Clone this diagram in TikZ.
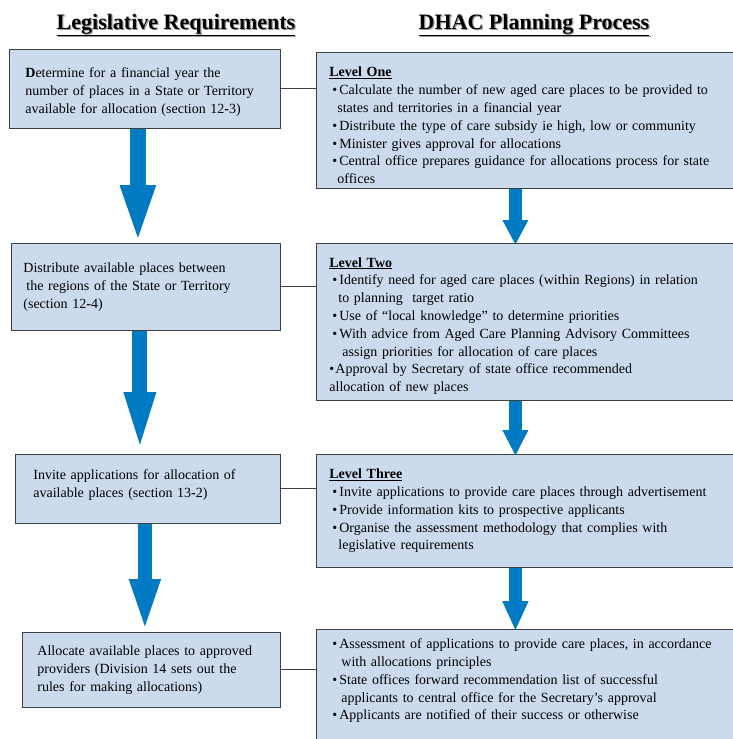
\documentclass[tikz,border=0pt]{standalone}
\usepackage{fontspec}
\setmainfont{Liberation Serif}
\usetikzlibrary{arrows.meta}
\definecolor{boxfill}{RGB}{204,218,238}
\definecolor{boxline}{RGB}{64,64,64}
\definecolor{flowblue}{RGB}{0,122,194}
\newcommand{\shadowed}[1]{\rlap{\hspace{1.2pt}\raisebox{-1.2pt}{\textcolor{black!40}{#1}}}#1}
\newcommand{\blt}{\makebox[10pt][l]{\hspace{3pt}\textbullet}}

\begin{document}
\begin{tikzpicture}[x=1pt, y=-1pt,
  legbox/.style={draw=boxline, fill=boxfill, line width=0.8pt, anchor=north west,
    align=left, inner ysep=0pt, font=\fontsize{14}{18}\selectfont},
  planbox/.style={legbox, minimum width=418pt, inner xsep=13pt, text width=392pt,
    font=\fontsize{14}{17.8}\selectfont},
  heading/.style={anchor=base, font=\fontsize{22}{26}\selectfont\bfseries},
  link/.style={draw=boxline, line width=0.9pt},
  flow/.style n args={3}{draw=flowblue, line width=#1, -{Triangle[width=#2, length=#3]}}]
  \useasboundingbox (0,0) rectangle (732,739);

  % column headings
  \node[heading] (hleg) at (176,29) {\shadowed{\underline{Legislative Requirements}}};
  \node[heading] (hdhac) at (534,29) {\shadowed{\underline{DHAC Planning Process}}};

  % legislative requirements
  \node[legbox, minimum width=271pt, minimum height=79pt, inner xsep=16pt, text width=239pt] (l1) at (9,49)
    {\rule{0pt}{17pt}\textbf{D}etermine for a financial year the\\ number of places in a State or Territory\\ available for allocation (section 12\textbf{-}3)};
  \node[legbox, minimum width=269pt, minimum height=87pt, inner xsep=12pt, text width=245pt] (l2) at (11,243)
    {Distribute available places between\\ \hspace*{3pt}the regions of the State or Territory\\ (section 12\textbf{-}4)};
  \node[legbox, minimum width=265pt, minimum height=69pt, inner xsep=18pt, text width=229pt] (l3) at (15,454)
    {Invite applications for allocation of\\ available places (section 13\textbf{-}2)\rule[-11pt]{0pt}{11pt}};
  \node[legbox, minimum width=258pt, minimum height=75pt, inner xsep=15pt, text width=228pt] (l4) at (22,632)
    {Allocate available places to approved\\ providers (Division 14 sets out the\\ rules for making allocations)};

  % planning process
  \node[planbox, minimum height=136pt] (r1) at (316,52)
    {\rule{0pt}{20pt}\textbf{\underline{Level One}}\\
     \blt Calculate the number of new aged care places to be provided to\\
     \hspace*{8pt}states and territories in a financial year\\
     \blt Distribute the type of care subsidy ie high, low or community\\
     \blt Minister gives approval for allocations\\
     \blt Central office prepares guidance for allocations process for state\\
     \hspace*{8pt}offices};
  \node[planbox, minimum height=157pt] (r2) at (316,243)
    {\rule{0pt}{18pt}\textbf{\underline{Level Two}}\\
     \blt Identify need for aged care places (within Regions) in relation\\
     \hspace*{9pt}to planning\ \ target ratio\\
     \blt Use of “local knowledge” to determine priorities\\
     \blt With advice from Aged Care Planning Advisory Committees\\
     \hspace*{13pt}assign priorities for allocation of care places\\
     \makebox[6pt][l]{\textbullet}Approval by Secretary of state office recommended\\
     allocation of new places};
  \node[planbox, minimum height=113pt] (r3) at (316,454)
    {\textbf{\underline{Level Three}}\\
     \blt Invite applications to provide care places through advertisement\\
     \blt Provide information kits to prospective applicants\\
     \blt Organise the assessment methodology that complies with\\
     \hspace*{9pt}legislative requirements};
  \node[planbox, minimum height=112pt] (r4) at (316,629)
    {\blt Assessment of applications to provide care places, in accordance\\
     \hspace*{12pt}with allocations principles\\
     \blt State offices forward recommendation list of successful\\
     \hspace*{12pt}applicants to central office for the Secretary’s approval\\
     \blt Applicants are notified of their success or otherwise\rule[-12pt]{0pt}{12pt}};

  % links across
  \draw[link] (l1.east) -- (l1.east -| r1.west);
  \draw[link] (l2.east) -- (l2.east -| r2.west);
  \draw[link] (l3.east) -- (l3.east -| r3.west);
  \draw[link] (l4.east) -- (l4.east -| r4.west);

  % flow arrows
  \draw[flow={16pt}{31pt}{60pt}] ([xshift=-7pt]l1.south) -- ([xshift=-7pt,yshift=-2pt]l1.south |- l2.north);
  \draw[flow={15pt}{27pt}{64pt}] ([xshift=-6pt]l2.south) -- ([xshift=-6pt,yshift=-2pt]l2.south |- l3.north);
  \draw[flow={14pt}{27pt}{55pt}] ([xshift=-3pt]l3.south) -- ([xshift=-3pt,yshift=-2pt]l3.south |- l4.north);
  \draw[flow={13pt}{24pt}{25pt}] ([xshift=-10pt]r1.south) -- ([xshift=-10pt,yshift=-2pt]r1.south |- r2.north);
  \draw[flow={13pt}{24pt}{26pt}] ([xshift=-10pt]r2.south) -- ([xshift=-10pt,yshift=-2pt]r2.south |- r3.north);
  \draw[flow={13pt}{24pt}{30pt}] ([xshift=-10pt]r3.south) -- ([xshift=-10pt,yshift=-2pt]r3.south |- r4.north);
\end{tikzpicture}
\end{document}
